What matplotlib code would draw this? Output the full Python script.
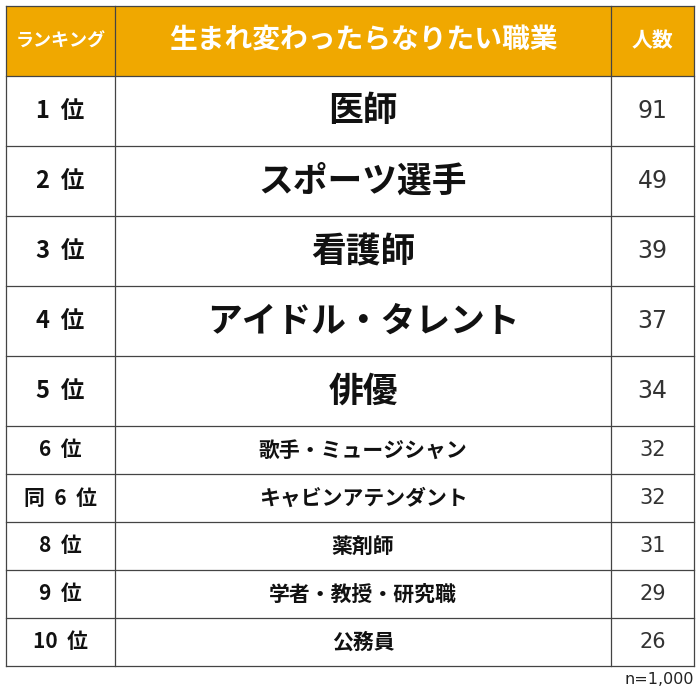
import matplotlib.pyplot as plt
from matplotlib.patches import Rectangle

plt.rcParams['font.family'] = 'Noto Sans CJK JP'

headers = ['ランキング', '生まれ変わったらなりたい職業', '人数']
ranks = ['1 位', '2 位', '3 位', '4 位', '5 位', '6 位', '同 6 位', '8 位', '9 位', '10 位']
jobs = ['医師', 'スポーツ選手', '看護師', 'アイドル・タレント', '俳優',
        '歌手・ミュージシャン', 'キャビンアテンダント', '薬剤師', '学者・教授・研究職', '公務員']
counts = [91, 49, 39, 37, 34, 32, 32, 31, 29, 26]

col_x = [6, 115, 611, 694]
header_top, header_h = 6, 70
big_h, small_h = 70, 48

fig = plt.figure(figsize=(7, 6.9), dpi=100)
ax = fig.add_axes([0, 0, 1, 1])
ax.set_xlim(0, 700)
ax.set_ylim(690, 0)
ax.axis('off')

orange = '#F0A800'
ax.add_patch(Rectangle((col_x[0], header_top), col_x[-1] - col_x[0], header_h,
                       facecolor=orange, edgecolor='none'))
hsizes = [13, 20, 15]
for i, h in enumerate(headers):
    cx = (col_x[i] + col_x[i + 1]) / 2
    ax.text(cx, header_top + header_h / 2, h, color='white', fontsize=hsizes[i],
            fontweight='bold', ha='center', va='center')

y = header_top + header_h
ys = [y]
for i in range(len(ranks)):
    big = i < 5
    h = big_h if big else small_h
    cy = y + h / 2
    ax.text((col_x[0] + col_x[1]) / 2, cy, ranks[i].replace(' ', '  '),
            fontsize=17 if big else 15,
            fontweight='bold', ha='center', va='center', color='#111111')
    ax.text((col_x[1] + col_x[2]) / 2, cy, jobs[i], fontsize=25 if big else 15,
            fontweight='bold', ha='center', va='center', color='#111111')
    ax.text((col_x[2] + col_x[3]) / 2, cy, str(counts[i]), fontsize=17 if big else 15,
            ha='center', va='center', color='#333333', family='DejaVu Sans')
    y += h
    ys.append(y)

lc = '#444444'
for yy in ys:
    ax.plot([col_x[0], col_x[-1]], [yy, yy], color=lc, lw=0.9)
ax.plot([col_x[0], col_x[-1]], [header_top, header_top], color=lc, lw=0.9)
for xx in col_x:
    ax.plot([xx, xx], [header_top, ys[-1]], color=lc, lw=0.9)

ax.text(col_x[-1], ys[-1] + 13, 'n=1,000', fontsize=11.5, ha='right', va='center',
        color='#222222', family='DejaVu Sans')

fig.savefig('out.png', dpi=100)
